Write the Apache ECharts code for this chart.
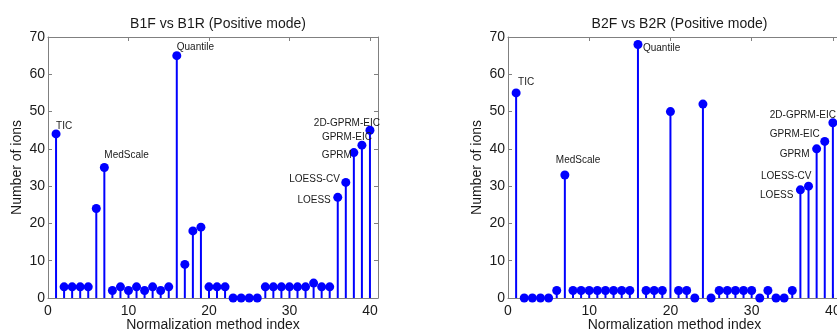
<!DOCTYPE html>
<html>
<head>
<meta charset="utf-8">
<script src="https://cdn.jsdelivr.net/npm/echarts@6/dist/echarts.min.js"></script>
<style>
  html, body {margin: 0; padding: 0; background: #fff;}
  #chart {width: 837px; height: 332px;}
</style>
</head>
<body>
<div id="chart"></div>
<script>
// method index 1..40
const methodIndex = Array.from({length: 40}, (_, i) => i + 1);

const titles = ['B1F vs B1R (Positive mode)', 'B2F vs B2R (Positive mode)'];

const ions1 = [44, 3, 3, 3, 3, 24, 35, 2, 3, 2, 3, 2, 3, 2, 3, 65, 9, 18, 19, 3,
    3, 3, 0, 0, 0, 0, 3, 3, 3, 3, 3, 3, 4, 3, 3, 27, 31, 39, 41, 45];
const ions2 = [55, 0, 0, 0, 0, 2, 33, 2, 2, 2, 2, 2, 2, 2, 2, 68, 2, 2, 2, 50,
    2, 2, 0, 52, 0, 2, 2, 2, 2, 2, 0, 2, 0, 0, 2, 29, 30, 40, 42, 47];

// annotated methods (index -> name)
const methodNames = {1: 'TIC', 7: 'MedScale', 16: 'Quantile', 36: 'LOESS', 37: 'LOESS-CV',
    38: 'GPRM', 39: 'GPRM-EIC', 40: '2D-GPRM-EIC'};

const xTicks = [0, 10, 20, 30, 40];
const yTicks = [0, 10, 20, 30, 40, 50, 60, 70];

// label placement per panel: [align, dx, dy]
const labelPos = [
    {1: ['left', 0, -8], 7: ['left', 0, -12], 16: ['left', 0, -8], 40: ['right', 10, -7],
        39: ['right', 10, -8], 38: ['right', -2, 3], 37: ['right', -6, -3], 36: ['right', -7, 3]},
    {1: ['left', 2, -11], 7: ['left', -9, -15], 16: ['left', 5, 4], 40: ['right', 3, -8],
        39: ['right', -5, -7], 38: ['right', -7, 5], 37: ['right', 3, -10], 36: ['right', -7, 5]}
];

const blue = '#0000ff';
const axisGray = '#808080';
const textColor = '#1a1a1a';
const font = 'Liberation Sans, Arial, sans-serif';

const chart = echarts.init(document.getElementById('chart'));

const grids = [
    {left: 48, top: 37, width: 330, height: 261, outerBoundsMode: 'none', containLabel: false},
    {left: 508, top: 37, width: 333, height: 261, outerBoundsMode: 'none', containLabel: false}
];

const xAxes = [], yAxes = [], series = [], titleList = [];
[ions1, ions2].forEach((ions, g) => {
    titleList.push({
        text: titles[g], left: grids[g].left + grids[g].width / 2, top: 12,
        textAlign: 'center',
        textStyle: {fontSize: 14, fontWeight: 'normal', color: textColor, fontFamily: font}
    });
    const base = {
        type: 'value', gridIndex: g, min: 0, interval: 10,
        axisLine: {show: true, onZero: false, lineStyle: {color: axisGray, width: 1}},
        axisTick: {show: true, inside: true, length: 4, lineStyle: {color: axisGray}},
        splitLine: {show: false},
        axisLabel: {color: textColor, fontSize: 14, fontFamily: font}
    };
    xAxes.push(Object.assign({}, base, {
        max: 41, position: 'bottom',
        axisLabel: Object.assign({}, base.axisLabel, {
            margin: 6,
            formatter: v => xTicks.includes(v) ? String(v) : ''
        }),
        name: 'Normalization method index', nameLocation: 'middle', nameGap: 20,
        nameMoveOverlap: false,
        nameTextStyle: {fontSize: 14, color: textColor, fontFamily: font}
    }));
    xAxes.push(Object.assign({}, base, {max: 41, position: 'top', axisLabel: {show: false}}));
    yAxes.push(Object.assign({}, base, {
        max: 70, position: 'left',
        axisLabel: Object.assign({}, base.axisLabel, {
            margin: 3,
            formatter: v => yTicks.includes(v) ? String(v) : ''
        }),
        name: 'Number of ions', nameLocation: 'middle', nameGap: 24,
        nameTextStyle: {fontSize: 14, color: textColor, fontFamily: font}
    }));
    yAxes.push(Object.assign({}, base, {max: 70, position: 'right', axisLabel: {show: false}}));

    const pts = methodIndex.map((x, i) => [x, ions[i]]);
    series.push({
        type: 'custom', xAxisIndex: g * 2, yAxisIndex: g * 2, silent: true,
        data: pts,
        renderItem: (params, api) => {
            const top = api.coord([api.value(0), api.value(1)]);
            const bot = api.coord([api.value(0), 0]);
            return {
                type: 'line',
                shape: {x1: bot[0], y1: bot[1], x2: top[0], y2: top[1]},
                style: {stroke: blue, lineWidth: 2}
            };
        }
    });
    series.push({
        type: 'scatter', xAxisIndex: g * 2, yAxisIndex: g * 2,
        symbol: 'circle', symbolSize: 9,
        itemStyle: {color: blue, opacity: 1},
        data: pts.map(p => {
            const name = methodNames[p[0]];
            if (!name) return p;
            const lp = labelPos[g][p[0]];
            return {
                value: p,
                label: {
                    show: true, formatter: name, position: 'inside',
                    align: lp[0], verticalAlign: 'middle', offset: [lp[1], lp[2]],
                    fontSize: 10, color: textColor, fontFamily: font
                }
            };
        })
    });
});

chart.setOption({
    animation: false,
    title: titleList,
    grid: grids,
    xAxis: xAxes,
    yAxis: yAxes,
    series: series
});
</script>
</body>
</html>
